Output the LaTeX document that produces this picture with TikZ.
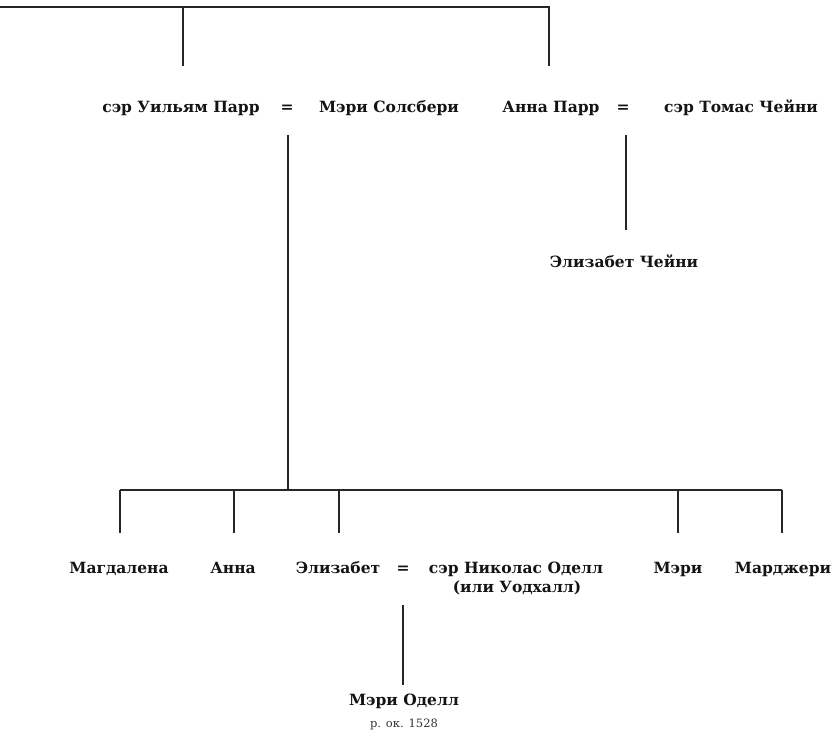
\documentclass[tikz,border=0pt]{standalone}
\usepackage{fontspec}
\setmainfont{DejaVu Serif}
\begin{document}
\begin{tikzpicture}[x=1pt,y=-1pt,
  person/.style={font=\fontsize{15.5}{18}\selectfont\bfseries, inner sep=0pt, anchor=base, text=black!92},
  dateline/.style={font=\fontsize{11.5}{13}\selectfont, inner sep=0pt, anchor=base, text=black!80},
  link/.style={line width=1.2pt, draw=black!85}]
\useasboundingbox (0,0) rectangle (836,733);
% top generation
\coordinate (tl) at (0,7);
\coordinate (tj) at (183,7);
\coordinate (tr) at (549,7);
\coordinate (tjb) at (183,66);
\coordinate (trb) at (549,66);
\draw[link] (tl) -- (tr) -- (trb);
\draw[link] (tj) -- (tjb);
% second row
\node[person] (wp) at (181,113) {сэр Уильям Парр};
\node[person] (eq1) at (287,113) {=};
\node[person] (ms) at (389,113) {Мэри Солсбери};
\node[person] (ap) at (551,113) {Анна Парр};
\node[person] (eq2) at (623,113) {=};
\node[person] (tc) at (741,113) {сэр Томас Чейни};
\node[person] (ec) at (624,267) {Элизабет Чейни};
\coordinate (c2a) at (626,135);
\coordinate (c2b) at (626,230);
\draw[link] (c2a) -- (c2b);
% children of William Parr
\coordinate (c1a) at (288,135);
\coordinate (c1b) at (288,490);
\coordinate (hl) at (120,490);
\coordinate (hr) at (782,490);
\draw[link] (c1a) -- (c1b);
\draw[link] (hl) -- (hr);
\node[person] (mg) at (119,573) {Магдалена};
\node[person] (an) at (233,573) {Анна};
\node[person] (el) at (338,573) {Элизабет};
\node[person] (eq3) at (403,573) {=};
\node[person] (no) at (516,573) {сэр Николас Оделл};
\node[person] (no2) at (517,592) {(или Уодхалл)};
\node[person] (me) at (678,573) {Мэри};
\node[person] (mj) at (783,573) {Марджери};
\foreach \x in {120,234,339,678,782} {
  \draw[link] (\x,490) -- (\x,533);
}
\coordinate (c3a) at (403,605);
\coordinate (c3b) at (403,685);
\draw[link] (c3a) -- (c3b);
\node[person] (mo) at (404,705) {Мэри Оделл};
\node[dateline] (mob) at (404,727) {р. ок. 1528};
\end{tikzpicture}
\end{document}
